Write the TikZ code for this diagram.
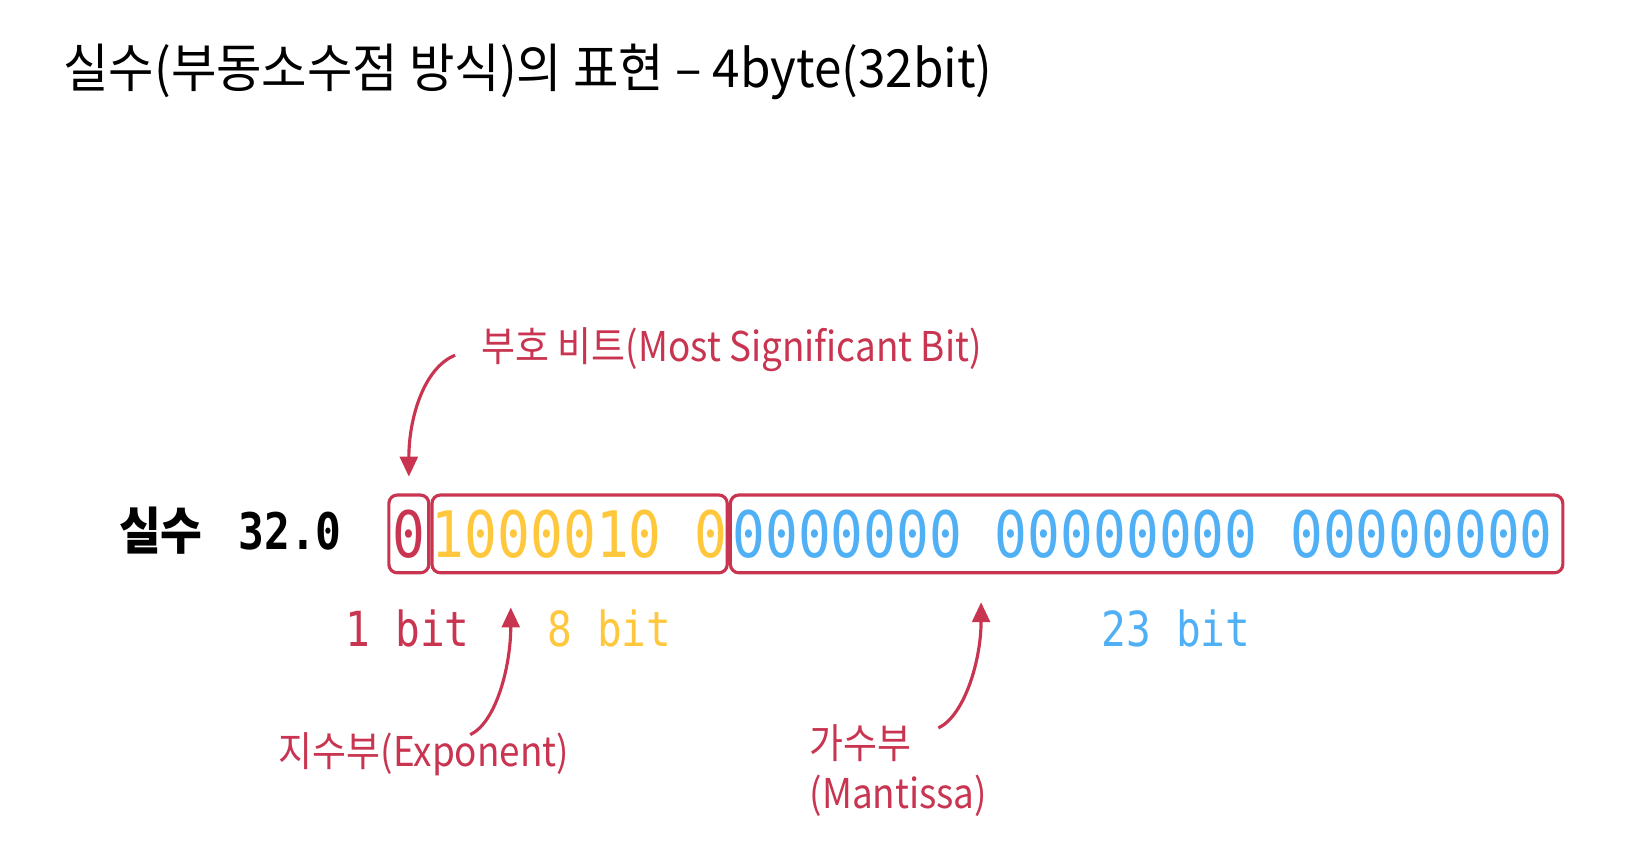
\documentclass[tikz,border=0pt]{standalone}
\usepackage{fontspec}
\usetikzlibrary{positioning, arrows.meta}
\newfontfamily\krfont[FakeStretch=0.9]{Noto Sans CJK KR}
\newfontfamily\titlefont[FakeStretch=0.94]{Noto Sans CJK KR}
\newfontfamily\bitfont[FakeStretch=0.85, RawFeature=+zero]{DejaVu Sans Mono}
\definecolor{signred}{RGB}{201,53,80}
\definecolor{expyellow}{RGB}{255,200,60}
\definecolor{mantblue}{RGB}{79,176,245}

\begin{document}
\begin{tikzpicture}[x=0.5pt, y=-0.5pt,
    krnote/.style={inner sep=0pt, text=signred, font=\krfont\fontsize{19.5}{24}\selectfont},
    bitbox/.style={draw=signred, line width=1.5pt, rounded corners=4pt, minimum height=37pt,
      inner sep=0pt, font=\bitfont\fontsize{30.5}{32}\selectfont},
    bitcount/.style={inner sep=0pt, font=\bitfont\fontsize{23}{26}\selectfont},
    callout/.style={draw=signred, line width=1.5pt, -{Triangle[width=8.5pt, length=9.5pt]}}]
  \fill[white] (0,0) rectangle (1568,822);
  \useasboundingbox (0,0) rectangle (1568,822);

  \node[anchor=west, inner sep=0pt, font=\titlefont\fontsize{25}{28}\selectfont] (title) at (60,68)
    {실수(부동소수점 방식)의 표현 – 4byte(32bit)};

  \node[anchor=west, inner sep=0pt] (real) at (113,505)
    {{\krfont\bfseries\fontsize{24}{28}\selectfont 실수}\hspace{17pt}{\bitfont\bfseries\fontsize{24}{28}\selectfont 32.0}};
  \node[bitbox, minimum width=19pt, text=signred] (sign) at (389,508) {0};
  \node[bitbox, text=expyellow, right=0pt of sign] (expo) {1000010 0};
  \node[bitbox, inner xsep=1pt, text=mantblue, right=0pt of expo] (mant)
    {\makebox[394pt][l]{0000000 00000000 00000000}};

  \node[bitcount, text=signred] (onebit) at (388,598) {1 bit};
  \node[bitcount, text=expyellow] (eightbit) at (580,598) {8 bit};
  \node[bitcount, text=mantblue] (twentythreebit) at (1119,598) {23 bit};

  \node[krnote, anchor=west] (msb) at (458,333) {부호 비트(Most Significant Bit)};
  \node[krnote, anchor=west] (expl) at (265,718) {지수부(Exponent)};
  \node[krnote, anchor=west, align=left] (mantl) at (770,733) {가수부\\(Mantissa)};

  \draw[callout] ([xshift=-12.5pt, yshift=-2.5pt]msb.west) .. controls +(-30,12) and +(0,-55) .. ([yshift=8pt]sign.north);
  \draw[callout] ([xshift=22pt, yshift=-1pt]expl.north) .. controls +(25,-12) and +(0,55) .. ([xshift=-32.75pt, yshift=-15.75pt]expo.south);
  \draw[callout] ([xshift=19pt, yshift=-2pt]mantl.north) .. controls +(25,-12) and +(0,55) .. ([xshift=-78.75pt, yshift=-13.25pt]mant.south);
\end{tikzpicture}
\end{document}
